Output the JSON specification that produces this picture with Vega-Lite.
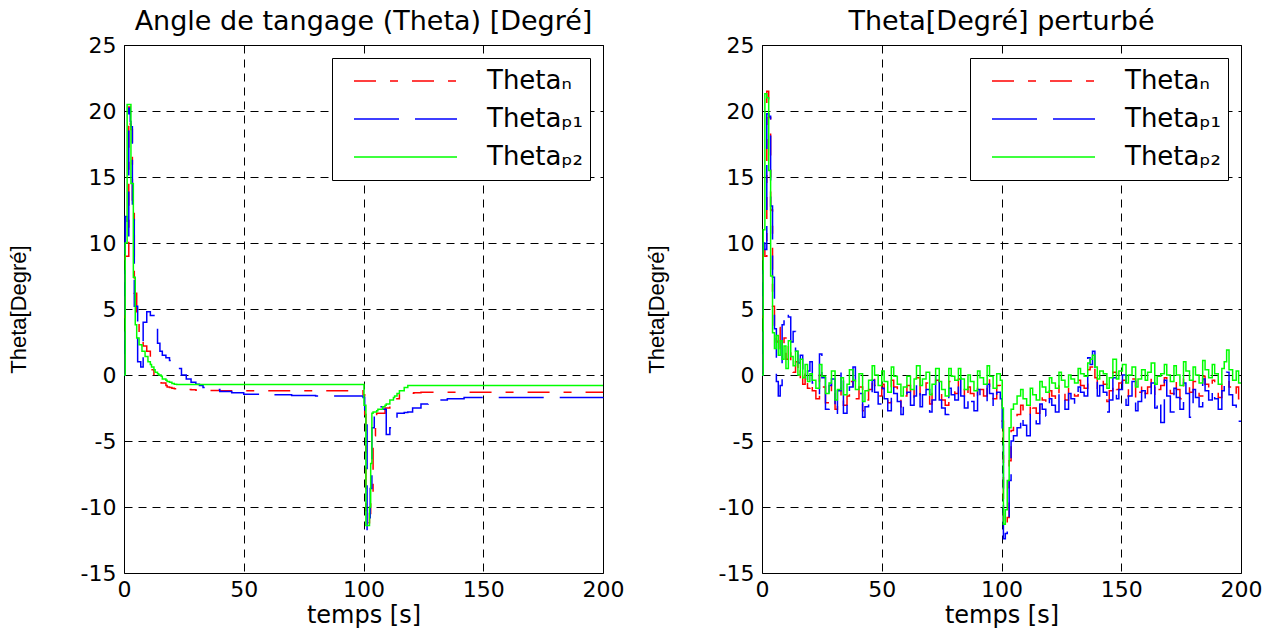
{
  "$schema": "https://vega.github.io/schema/vega-lite/v6.json",
  "background": "white",
  "padding": {"left": 6, "top": 7, "right": 5, "bottom": 0},
  "spacing": 19,
  "datasets": {
    "L": [
      {"t":0,"N":0,"P1":0,"P2":0},
      {"t":0.5,"N":9,"P1":12,"P2":10},
      {"t":1.3,"N":9,"P1":10.5,"P2":20.5},
      {"t":2.0,"N":20.3,"P1":20.2,"P2":20.5},
      {"t":2.6,"N":19,"P1":19.2,"P2":20.5},
      {"t":2.9,"N":18.6,"P1":18.8,"P2":14.5},
      {"t":3.5,"N":12.5,"P1":12.3,"P2":14.5},
      {"t":3.9,"N":12.5,"P1":12.3,"P2":7.4},
      {"t":4.3,"N":6.2,"P1":5.2,"P2":7.4},
      {"t":4.7,"N":6.2,"P1":5.2,"P2":3.8},
      {"t":5.3,"N":4.0,"P1":5.2,"P2":2.8},
      {"t":5.7,"N":4.0,"P1":1.0,"P2":2.8},
      {"t":6.3,"N":3.2,"P1":1.0,"P2":2.3},
      {"t":7.0,"N":3.2,"P1":0.6,"P2":2.3},
      {"t":7.5,"N":3.2,"P1":0.6,"P2":1.8},
      {"t":8.0,"N":2.2,"P1":4.0,"P2":1.8},
      {"t":8.8,"N":2.2,"P1":4.0,"P2":1.4},
      {"t":9.5,"N":1.8,"P1":4.8,"P2":1.4},
      {"t":10,"N":1.8,"P1":4.8,"P2":1.0},
      {"t":11,"N":0.4,"P1":4.5,"P2":0.8},
      {"t":11.5,"N":0.4,"P1":4.5,"P2":0.6},
      {"t":12.5,"N":-0.1,"P1":4.2,"P2":0.4},
      {"t":13,"N":-0.1,"P1":3.6,"P2":0.2},
      {"t":14,"N":-0.4,"P1":2.4,"P2":0.1},
      {"t":14.5,"N":-0.4,"P1":2.4,"P2":0.0},
      {"t":15,"N":-0.5,"P1":1.8,"P2":0.0},
      {"t":15.5,"N":-0.6,"P1":1.8,"P2":-0.1},
      {"t":16,"N":-0.6,"P1":1.5,"P2":-0.3},
      {"t":17.5,"N":-0.8,"P1":1.3,"P2":-0.4},
      {"t":18,"N":-0.9,"P1":1.3,"P2":-0.5},
      {"t":19,"N":-0.95,"P1":1.1,"P2":-0.55},
      {"t":20,"N":-1.0,"P1":1.0,"P2":-0.65},
      {"t":20.5,"N":-1.0,"P1":0.9,"P2":-0.65},
      {"t":21,"N":-1.05,"P1":0.9,"P2":-0.7},
      {"t":22,"N":-1.05,"P1":0.5,"P2":-0.72},
      {"t":24,"N":-1.1,"P1":0.0,"P2":-0.72},
      {"t":26,"N":-1.1,"P1":-0.3,"P2":-0.72},
      {"t":28,"N":-1.12,"P1":-0.55,"P2":-0.72},
      {"t":30,"N":-1.15,"P1":-0.7,"P2":-0.72},
      {"t":31.5,"N":-1.15,"P1":-0.8,"P2":-0.72},
      {"t":33,"N":-1.17,"P1":-0.95,"P2":-0.72},
      {"t":36,"N":-1.18,"P1":-1.1,"P2":-0.72},
      {"t":40,"N":-1.2,"P1":-1.25,"P2":-0.72},
      {"t":45,"N":-1.2,"P1":-1.35,"P2":-0.72},
      {"t":50,"N":-1.2,"P1":-1.45,"P2":-0.72},
      {"t":60,"N":-1.2,"P1":-1.5,"P2":-0.72},
      {"t":70,"N":-1.2,"P1":-1.55,"P2":-0.72},
      {"t":80,"N":-1.2,"P1":-1.6,"P2":-0.72},
      {"t":99.8,"N":-1.5,"P1":-1.7,"P2":-0.72},
      {"t":100.2,"N":-1.5,"P1":-1.7,"P2":-2.3},
      {"t":100.5,"N":-3.0,"P1":-2.7,"P2":-2.3},
      {"t":101,"N":-10.5,"P1":-2.7,"P2":-11.4},
      {"t":101.5,"N":-11.2,"P1":-11.8,"P2":-11.4},
      {"t":102.5,"N":-10.5,"P1":-11.8,"P2":-10.0},
      {"t":102.8,"N":-10.5,"P1":-8.6,"P2":-10.0},
      {"t":103,"N":-9.3,"P1":-8.6,"P2":-6.7},
      {"t":103.5,"N":-9.3,"P1":-4.0,"P2":-2.9},
      {"t":104,"N":-4.6,"P1":-4.0,"P2":-2.8},
      {"t":104.5,"N":-4.6,"P1":-3.2,"P2":-2.8},
      {"t":105,"N":-3.5,"P1":-3.2,"P2":-2.8},
      {"t":105.5,"N":-2.9,"P1":-3.2,"P2":-2.7},
      {"t":106,"N":-2.9,"P1":-2.4,"P2":-2.6},
      {"t":108,"N":-2.9,"P1":-2.6,"P2":-2.4},
      {"t":109,"N":-2.5,"P1":-2.6,"P2":-2.3},
      {"t":109.5,"N":-2.5,"P1":-4.5,"P2":-2.2},
      {"t":111,"N":-2.0,"P1":-4.0,"P2":-1.9},
      {"t":112.5,"N":-2.0,"P1":-3.3,"P2":-1.7},
      {"t":113,"N":-1.8,"P1":-3.3,"P2":-1.6},
      {"t":114,"N":-1.8,"P1":-2.9,"P2":-1.4},
      {"t":115,"N":-1.45,"P1":-2.9,"P2":-1.2},
      {"t":117,"N":-1.42,"P1":-2.85,"P2":-0.95},
      {"t":118.5,"N":-1.4,"P1":-2.8,"P2":-0.8},
      {"t":120.5,"N":-1.38,"P1":-2.5,"P2":-0.8},
      {"t":121,"N":-1.35,"P1":-2.5,"P2":-0.8},
      {"t":124,"N":-1.3,"P1":-2.2,"P2":-0.8},
      {"t":127,"N":-1.3,"P1":-2.0,"P2":-0.8},
      {"t":131,"N":-1.3,"P1":-1.9,"P2":-0.8},
      {"t":135,"N":-1.3,"P1":-1.8,"P2":-0.8},
      {"t":142,"N":-1.3,"P1":-1.7,"P2":-0.8},
      {"t":200,"N":-1.3,"P1":-1.68,"P2":-0.8}
    ],
    "R": [
      {"t":0,"N":0,"P1":0,"P2":0},
      {"t":0.5,"N":9.5,"P1":10,"P2":11},
      {"t":1.2,"N":9,"P1":9.5,"P2":21.3},
      {"t":2.0,"N":21.5,"P1":19.8,"P2":21.0},
      {"t":2.8,"N":19.5,"P1":19.6,"P2":15.5},
      {"t":3.6,"N":12.5,"P1":12.8,"P2":7.5},
      {"t":4.4,"N":5.2,"P1":7.4,"P2":3.2},
      {"t":5.2,"N":3.0,"P1":3.5,"P2":2.0},
      {"t":6.0,"N":2.5,"P1":-0.5,"P2":3.0},
      {"t":6.8,"N":3.6,"P1":-1.6,"P2":1.5},
      {"t":7.6,"N":2.0,"P1":-0.8,"P2":2.6},
      {"t":8.4,"N":1.8,"P1":3.8,"P2":1.2},
      {"t":9.2,"N":2.8,"P1":4.6,"P2":2.2},
      {"t":10,"N":1.2,"P1":4.8,"P2":0.5},
      {"t":11,"N":2.4,"P1":4.4,"P2":2.6},
      {"t":12,"N":1.0,"P1":2.5,"P2":1.4},
      {"t":13,"N":0.2,"P1":3.3,"P2":0.7},
      {"t":14,"N":1.0,"P1":1.8,"P2":1.8},
      {"t":15,"N":-0.3,"P1":0.9,"P2":0.0},
      {"t":16,"N":0.6,"P1":1.5,"P2":1.2},
      {"t":17,"N":-0.7,"P1":0.2,"P2":-0.2},
      {"t":18,"N":0.2,"P1":-0.4,"P2":0.8},
      {"t":19,"N":-1.0,"P1":0.3,"P2":-0.5},
      {"t":20,"N":-0.5,"P1":1.0,"P2":0.1},
      {"t":21,"N":-1.2,"P1":-0.6,"P2":-0.4},
      {"t":22.5,"N":-1.8,"P1":-1.4,"P2":-1.0},
      {"t":24,"N":0.0,"P1":1.6,"P2":0.8},
      {"t":25,"N":-0.9,"P1":-0.2,"P2":-0.1},
      {"t":26.5,"N":-2.1,"P1":-2.6,"P2":-1.4},
      {"t":28,"N":-1.4,"P1":-0.8,"P2":-0.6},
      {"t":29,"N":-0.6,"P1":-0.3,"P2":0.3},
      {"t":30.5,"N":-2.6,"P1":-3.1,"P2":-1.9},
      {"t":31.5,"N":-1.9,"P1":-1.2,"P2":-1.1},
      {"t":33,"N":-1.0,"P1":0.4,"P2":-0.2},
      {"t":34,"N":-2.3,"P1":-2.9,"P2":-1.5},
      {"t":35.5,"N":-1.6,"P1":-2.0,"P2":-0.7},
      {"t":36.5,"N":-0.5,"P1":-0.9,"P2":0.4},
      {"t":38,"N":-1.2,"P1":0.6,"P2":-0.4},
      {"t":39,"N":-1.8,"P1":-1.0,"P2":-1.1},
      {"t":40.5,"N":-0.9,"P1":-1.4,"P2":0.1},
      {"t":42,"N":-2.7,"P1":-3.2,"P2":-2.0},
      {"t":43,"N":-1.9,"P1":-2.4,"P2":-1.2},
      {"t":44.5,"N":-1.1,"P1":-1.5,"P2":-0.4},
      {"t":46,"N":0.0,"P1":-0.4,"P2":0.7},
      {"t":47,"N":-0.8,"P1":-1.3,"P2":0.0},
      {"t":48.5,"N":-1.6,"P1":-2.2,"P2":-0.8},
      {"t":50,"N":-0.7,"P1":-1.0,"P2":0.3},
      {"t":51,"N":-1.3,"P1":-1.8,"P2":-0.5},
      {"t":52.5,"N":-2.1,"P1":-2.7,"P2":-1.3},
      {"t":54,"N":-0.4,"P1":-0.8,"P2":0.6},
      {"t":55,"N":-0.9,"P1":-1.4,"P2":-0.1},
      {"t":56.5,"N":-1.5,"P1":-2.0,"P2":-0.7},
      {"t":58,"N":-2.4,"P1":-3.0,"P2":-1.6},
      {"t":59,"N":-1.6,"P1":-2.1,"P2":-0.9},
      {"t":60.5,"N":-0.8,"P1":-1.3,"P2":-0.1},
      {"t":62,"N":-1.9,"P1":-2.3,"P2":-1.1},
      {"t":63.5,"N":-1.1,"P1":-1.6,"P2":-0.3},
      {"t":64.5,"N":-0.2,"P1":-0.6,"P2":0.7},
      {"t":66,"N":-1.6,"P1":-2.4,"P2":-0.8},
      {"t":67,"N":-1.0,"P1":-1.5,"P2":-0.3},
      {"t":68.5,"N":-0.6,"P1":-1.1,"P2":0.2},
      {"t":70,"N":-2.2,"P1":-2.8,"P2":-1.5},
      {"t":71,"N":-1.4,"P1":-1.9,"P2":-0.7},
      {"t":72.5,"N":-0.4,"P1":0.3,"P2":0.5},
      {"t":74,"N":-1.3,"P1":-1.9,"P2":-0.5},
      {"t":75,"N":-1.9,"P1":-2.5,"P2":-1.1},
      {"t":76.5,"N":-2.3,"P1":-3.0,"P2":-1.6},
      {"t":78,"N":-0.5,"P1":-1.0,"P2":0.5},
      {"t":79,"N":-1.0,"P1":-1.5,"P2":-0.1},
      {"t":80.5,"N":-1.4,"P1":-1.9,"P2":-0.4},
      {"t":82,"N":-0.3,"P1":0.0,"P2":0.5},
      {"t":83,"N":-1.1,"P1":-1.6,"P2":-0.3},
      {"t":84.5,"N":-1.9,"P1":-2.5,"P2":-1.1},
      {"t":86,"N":-0.9,"P1":-1.5,"P2":0.0},
      {"t":87,"N":-1.4,"P1":-2.0,"P2":-0.5},
      {"t":88.5,"N":-2.0,"P1":-2.7,"P2":-1.2},
      {"t":90,"N":-0.6,"P1":-1.1,"P2":0.3},
      {"t":91,"N":-1.1,"P1":-1.6,"P2":-0.2},
      {"t":92.5,"N":-1.6,"P1":-2.1,"P2":-0.7},
      {"t":94,"N":-0.2,"P1":-0.7,"P2":0.7},
      {"t":95,"N":-0.9,"P1":-1.4,"P2":-0.1},
      {"t":96.5,"N":-1.8,"P1":-2.4,"P2":-1.0},
      {"t":98,"N":-0.8,"P1":-1.3,"P2":0.1},
      {"t":99.5,"N":-1.2,"P1":-1.8,"P2":-0.4},
      {"t":100.3,"N":-3.5,"P1":-4.0,"P2":-2.5},
      {"t":100.8,"N":-11.0,"P1":-12.4,"P2":-11.3},
      {"t":101.6,"N":-11.5,"P1":-12.0,"P2":-10.2},
      {"t":102.4,"N":-10.8,"P1":-11.0,"P2":-8.0},
      {"t":103.2,"N":-6.5,"P1":-8.0,"P2":-4.0},
      {"t":104,"N":-4.2,"P1":-5.0,"P2":-2.6},
      {"t":105,"N":-3.6,"P1":-4.6,"P2":-2.2},
      {"t":106.5,"N":-3.0,"P1":-4.0,"P2":-1.6},
      {"t":108,"N":-2.3,"P1":-3.0,"P2":-1.1},
      {"t":109,"N":-2.9,"P1":-3.8,"P2":-1.8},
      {"t":110.5,"N":-3.1,"P1":-4.6,"P2":-2.3},
      {"t":112,"N":-2.0,"P1":-2.8,"P2":-1.0},
      {"t":113,"N":-2.5,"P1":-3.3,"P2":-1.5},
      {"t":114.5,"N":-2.9,"P1":-3.7,"P2":-1.9},
      {"t":116,"N":-1.5,"P1":-2.2,"P2":-0.5},
      {"t":117,"N":-1.9,"P1":-2.6,"P2":-0.9},
      {"t":118.5,"N":-2.3,"P1":-3.1,"P2":-1.3},
      {"t":120,"N":-1.2,"P1":-1.8,"P2":-0.2},
      {"t":121,"N":-1.6,"P1":-2.3,"P2":-0.6},
      {"t":122.5,"N":-2.0,"P1":-2.8,"P2":-1.0},
      {"t":124,"N":-0.8,"P1":-1.3,"P2":0.2},
      {"t":125,"N":-1.3,"P1":-1.9,"P2":-0.4},
      {"t":126.5,"N":-1.9,"P1":-2.6,"P2":-0.9},
      {"t":128,"N":-0.9,"P1":-1.4,"P2":0.0},
      {"t":129,"N":-1.2,"P1":-1.8,"P2":-0.3},
      {"t":130.5,"N":-1.6,"P1":-2.2,"P2":-0.6},
      {"t":132,"N":-0.4,"P1":-0.9,"P2":0.5},
      {"t":133,"N":-0.8,"P1":-1.3,"P2":0.1},
      {"t":134.5,"N":-1.0,"P1":-1.6,"P2":-0.1},
      {"t":136,"N":0.4,"P1":1.3,"P2":0.9},
      {"t":137,"N":0.6,"P1":0.8,"P2":1.2},
      {"t":138,"N":1.0,"P1":1.8,"P2":1.5},
      {"t":139,"N":-0.2,"P1":0.2,"P2":0.6},
      {"t":140,"N":-1.0,"P1":-1.6,"P2":-0.3},
      {"t":141,"N":-0.4,"P1":-0.8,"P2":0.3},
      {"t":142.5,"N":-0.7,"P1":-1.3,"P2":0.1},
      {"t":144,"N":-2.0,"P1":-2.8,"P2":-1.0},
      {"t":145,"N":-1.2,"P1":-1.9,"P2":-0.2},
      {"t":146.5,"N":0.2,"P1":-0.2,"P2":1.2},
      {"t":148,"N":-1.1,"P1":-1.8,"P2":-0.3},
      {"t":149,"N":-0.6,"P1":-1.1,"P2":0.3},
      {"t":150.5,"N":-0.4,"P1":0.0,"P2":0.8},
      {"t":152,"N":-1.6,"P1":-2.3,"P2":-0.6},
      {"t":153,"N":-1.0,"P1":-1.6,"P2":0.0},
      {"t":154.5,"N":-0.3,"P1":-0.5,"P2":0.6},
      {"t":156,"N":-1.9,"P1":-2.7,"P2":-0.9},
      {"t":157,"N":-1.3,"P1":-2.0,"P2":-0.3},
      {"t":158.5,"N":-0.7,"P1":-1.2,"P2":0.4},
      {"t":160,"N":-1.4,"P1":-2.0,"P2":-0.4},
      {"t":161,"N":-0.9,"P1":-1.4,"P2":0.2},
      {"t":162.5,"N":-0.2,"P1":-0.6,"P2":0.9},
      {"t":164,"N":-1.7,"P1":-2.5,"P2":-0.7},
      {"t":165,"N":-1.1,"P1":-1.8,"P2":-0.1},
      {"t":166.5,"N":-0.8,"P1":-3.6,"P2":0.1},
      {"t":168,"N":-0.2,"P1":-0.4,"P2":0.8},
      {"t":169,"N":-0.9,"P1":-1.6,"P2":0.0},
      {"t":170.5,"N":-1.4,"P1":-2.8,"P2":-0.5},
      {"t":172,"N":-0.5,"P1":-1.0,"P2":0.7},
      {"t":173,"N":-1.1,"P1":-1.7,"P2":0.0},
      {"t":174.5,"N":-1.8,"P1":-2.6,"P2":-0.8},
      {"t":176,"N":-0.3,"P1":-0.6,"P2":1.0},
      {"t":177,"N":-0.8,"P1":-1.4,"P2":0.3},
      {"t":178.5,"N":-1.3,"P1":-3.2,"P2":-0.4},
      {"t":180,"N":-0.5,"P1":-1.1,"P2":0.6},
      {"t":181,"N":-1.0,"P1":-1.7,"P2":0.0},
      {"t":182.5,"N":-1.6,"P1":-2.4,"P2":-0.6},
      {"t":184,"N":-0.1,"P1":-0.3,"P2":1.1},
      {"t":185,"N":-0.7,"P1":-1.2,"P2":0.4},
      {"t":186.5,"N":-1.2,"P1":-1.9,"P2":-0.2},
      {"t":188,"N":-0.4,"P1":-1.0,"P2":0.8},
      {"t":189,"N":-1.0,"P1":-1.8,"P2":0.1},
      {"t":190.5,"N":-1.7,"P1":-2.6,"P2":-0.7},
      {"t":192,"N":-0.6,"P1":-1.2,"P2":0.5},
      {"t":193,"N":-0.4,"P1":-0.7,"P2":1.0},
      {"t":194,"N":-0.3,"P1":0.2,"P2":1.9},
      {"t":195,"N":-0.9,"P1":-1.5,"P2":0.4},
      {"t":196.5,"N":-1.5,"P1":-2.3,"P2":-0.4},
      {"t":198,"N":-0.9,"P1":-3.4,"P2":0.3},
      {"t":199,"N":-1.8,"P1":-3.5,"P2":-0.6},
      {"t":200,"N":-1.8,"P1":-3.5,"P2":-0.6}
    ]
  },
  "config": {
    "view": {"stroke": "black", "strokeWidth": 1},
    "axis": {
      "grid": true, "gridColor": "black", "gridDash": [8, 6], "gridOpacity": 1, "gridWidth": 1,
      "domain": false, "ticks": false,
      "labelFont": "DejaVu Sans", "labelFontSize": 22, "labelColor": "black", "labelPadding": 6,
      "labelFlush": false, "labelOverlap": false,
      "titleFont": "DejaVu Sans", "titleFontSize": 24, "titleFontWeight": "normal", "titleColor": "black"
    },
    "axisX": {"titlePadding": 3},
    "axisY": {"titleFont": "Liberation Sans", "titleFontSize": 22, "titlePadding": 50, "labelPadding": 8},
    "title": {"font": "DejaVu Sans", "fontSize": 27, "fontWeight": "normal", "color": "black", "offset": -2},
    "legend": {
      "orient": "top-right", "offset": 13,
      "strokeColor": "black", "fillColor": "white", "padding": 6, "cornerRadius": 0,
      "symbolType": "stroke", "symbolSize": 10609, "symbolStrokeWidth": 1.5, "symbolOffset": 15,
      "clipHeight": 34, "rowPadding": 4,
      "labelFont": "DejaVu Sans", "labelFontSize": 26, "labelColor": "black", "labelOffset": 29
    }
  },
  "hconcat": [
    {
      "width": 479, "height": 528,
      "title": "Angle de tangage  (Theta) [Degré]",
      "data": {"name": "L"},
      "transform": [{"fold": ["N", "P1", "P2"], "as": ["s", "v"]}],
      "mark": {"type": "line", "interpolate": "step-after", "strokeWidth": 1.5},
      "encoding": {
        "x": {"field": "t", "type": "quantitative", "scale": {"domain": [0, 200], "nice": false}, "axis": {"values": [0, 50, 100, 150, 200], "title": "temps [s]"}},
        "y": {"field": "v", "type": "quantitative", "scale": {"domain": [-15, 25], "nice": false, "zero": false}, "axis": {"values": [-15, -10, -5, 0, 5, 10, 15, 20, 25], "title": "Theta[Degré]", "labelExpr": "toString(datum.value)"}},
        "color": {"field": "s", "type": "nominal", "scale": {"domain": ["N", "P1", "P2"], "range": ["#ff0000", "#0000ff", "#00ff00"]}, "legend": {"title": null, "labelExpr": "datum.label == 'N' ? 'Thetaₙ' : datum.label == 'P1' ? 'Thetaₚ₁' : 'Thetaₚ₂'"}},
        "strokeDash": {"field": "s", "type": "nominal", "scale": {"domain": ["N", "P1", "P2"], "range": [[22, 14, 8, 14], [45, 16], [1, 0]]}, "legend": {"title": null, "labelExpr": "datum.label == 'N' ? 'Thetaₙ' : datum.label == 'P1' ? 'Thetaₚ₁' : 'Thetaₚ₂'"}}
      }
    },
    {
      "width": 479, "height": 528,
      "title": "Theta[Degré] perturbé",
      "data": {"name": "R"},
      "transform": [{"fold": ["N", "P1", "P2"], "as": ["s", "v"]}],
      "mark": {"type": "line", "interpolate": "step-after", "strokeWidth": 1.5},
      "encoding": {
        "x": {"field": "t", "type": "quantitative", "scale": {"domain": [0, 200], "nice": false}, "axis": {"values": [0, 50, 100, 150, 200], "title": "temps [s]"}},
        "y": {"field": "v", "type": "quantitative", "scale": {"domain": [-15, 25], "nice": false, "zero": false}, "axis": {"values": [-15, -10, -5, 0, 5, 10, 15, 20, 25], "title": "Theta[Degré]", "labelExpr": "toString(datum.value)"}},
        "color": {"field": "s", "type": "nominal", "scale": {"domain": ["N", "P1", "P2"], "range": ["#ff0000", "#0000ff", "#00ff00"]}, "legend": {"title": null, "labelExpr": "datum.label == 'N' ? 'Thetaₙ' : datum.label == 'P1' ? 'Thetaₚ₁' : 'Thetaₚ₂'"}},
        "strokeDash": {"field": "s", "type": "nominal", "scale": {"domain": ["N", "P1", "P2"], "range": [[22, 14, 8, 14], [45, 16], [1, 0]]}, "legend": {"title": null, "labelExpr": "datum.label == 'N' ? 'Thetaₙ' : datum.label == 'P1' ? 'Thetaₚ₁' : 'Thetaₚ₂'"}}
      }
    }
  ],
  "resolve": {"scale": {"color": "independent", "strokeDash": "independent"}, "legend": {"color": "independent", "strokeDash": "independent"}}
}
